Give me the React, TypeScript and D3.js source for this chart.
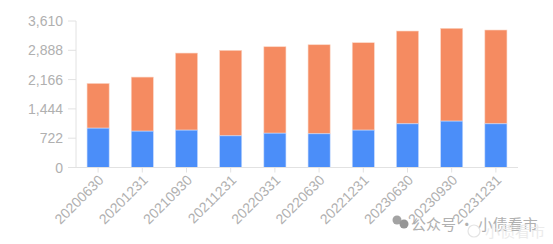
import React from "react";
import * as d3 from "d3";

const categories = ["20200630","20201231","20210930","20211231","20220331","20220630","20221231","20230630","20230930","20231231"];
const blueValues = [970, 896, 921, 780, 846, 830, 921, 1076, 1143, 1076];
const totalValues = [2072, 2228, 2820, 2887, 2976, 3025, 3075, 3363, 3430, 3388];
const yTicks = [0, 722, 1444, 2166, 2888, 3610];

const W = 553, H = 244;
const left = 76, right = 518, top = 21, bottom = 167.5;

export default function App() {
  const x = d3.scaleBand<string>().domain(categories).range([left, right]).paddingInner(0.5).paddingOuter(0.25);
  const y = d3.scaleLinear().domain([0, 3610]).range([bottom, top]);
  const fmt = d3.format(",");
  const font = "'Liberation Sans', Arial, sans-serif";
  const gray = "#b0b0b0";
  return (
    <svg width={W} height={H} style={{ position: "absolute", left: 0, top: 0, background: "#fff" }} fontFamily={font}>
      {categories.map((c, i) => {
        const bx = x(c)!;
        const bw = x.bandwidth();
        return (
          <g key={c}>
            <rect x={bx} y={y(totalValues[i])} width={bw} height={y(blueValues[i]) - y(totalValues[i])} fill="#F58B61" stroke="#fbd6c5" strokeWidth={0.6} />
            <rect x={bx} y={y(blueValues[i])} width={bw} height={y(0) - y(blueValues[i])} fill="#4B8EF9" stroke="#c6dafd" strokeWidth={0.6} />
          </g>
        );
      })}
      <line x1={left} x2={left} y1={top} y2={bottom} stroke="#e2e2e2" />
      <line x1={left} x2={right} y1={bottom} y2={bottom} stroke="#e2e2e2" />
      {yTicks.map((t) => (
        <g key={t}>
          <line x1={left - 8} x2={left} y1={y(t)} y2={y(t)} stroke="#e2e2e2" />
          <text x={63} y={y(t)} dy="0.36em" textAnchor="end" fontSize={14} fill={gray}>{fmt(t)}</text>
        </g>
      ))}
      {categories.map((c) => {
        const cx = x(c)! + x.bandwidth() / 2;
        return (
          <g key={c}>
            <line x1={cx} x2={cx} y1={bottom} y2={bottom + 5} stroke="#e2e2e2" />
            <text transform={`translate(${cx + 3},${bottom + 10}) rotate(-45)`} textAnchor="end" dy="0.35em" fontSize={14} fill={gray}>{c}</text>
          </g>
        );
      })}
      <g opacity={0.9}>
        <circle cx={397} cy={220} r={4.5} fill="#9a9a9a" />
        <circle cx={404} cy={224} r={4.5} fill="#8a8a8a" />
        <text x={411} y={230} fontSize={15} fill="#a8a8a8" fontFamily="'Noto Sans CJK SC', sans-serif">公众号 · 小债看市</text>
      </g>
      <circle cx={474} cy={231} r={6} fill="none" stroke="#e4e4e4" strokeWidth={1.2} />
      <text x={485} y={237} fontSize={15} fill="#ebebeb" fontFamily="'Noto Sans CJK SC', sans-serif">小债看市</text>
    </svg>
  );
}
